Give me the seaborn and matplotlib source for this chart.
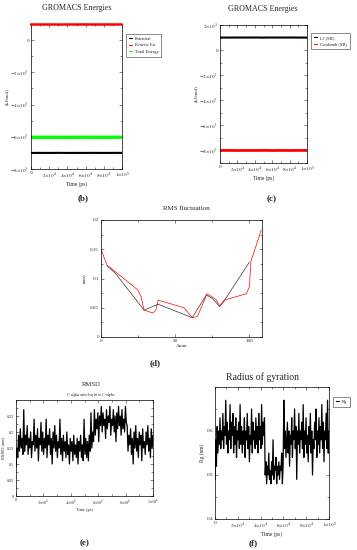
import numpy as np
import pandas as pd
import seaborn as sns
import matplotlib
matplotlib.use("Agg")
import matplotlib.pyplot as plt
from matplotlib.ticker import AutoMinorLocator

# Energy terms (kJ/mol), sampled across the 100 ns run
energy_time = [0, 1e4, 2e4, 3e4, 4e4, 5e4, 6e4, 7e4, 8e4, 9e4, 1e5]
potential = [-7004, -6998, -7002, -6997, -7003, -6999, -7001, -6998, -7002, -6999, -7000]
kinetic = [972, 968, 971, 967, 970, 969, 972, 968, 971, 969, 970]
total_energy = [-6032, -6030, -6031, -6030, -6033, -6030, -6029, -6030, -6031, -6030, -6030]
lj_sr = [1003, 998, 1002, 999, 1003, 997, 1002, 999, 1003, 998, 1001]
coulomb_sr = [-8003, -7997, -8004, -7998, -8002, -7996, -8003, -7998, -8002, -7997, -8000]

# RMS fluctuation per atom (nm)
black_atom = [4, 10, 29, 38.5, 61.5, 71, 75, 80, 82, 100]
black_rmsf = [0.122, 0.108, 0.046, 0.056, 0.033, 0.072, 0.066, 0.052, 0.058, 0.128]
red_atom = [0, 4, 10, 25, 27, 29, 35, 37, 38.5, 56, 61.5, 65, 71.5, 77.5, 80, 83, 98, 100, 101, 108]
red_rmsf = [0.15, 0.123, 0.111, 0.08, 0.069, 0.046, 0.041, 0.046, 0.063, 0.05,
            0.033, 0.035, 0.074, 0.064, 0.053, 0.063, 0.074, 0.086, 0.129, 0.183]

# RMSD of C-alpha (nm)
rmsd = [
    0.09, 0.15, 0.12, 0.19, 0.14, 0.21, 0.15, 0.18, 0.13, 0.27,
    0.14, 0.19, 0.16, 0.22, 0.13, 0.18, 0.15, 0.20, 0.12, 0.17,
    0.16, 0.24, 0.14, 0.19, 0.15, 0.21, 0.11, 0.18, 0.16, 0.23,
    0.14, 0.20, 0.13, 0.18, 0.15, 0.24, 0.12, 0.19, 0.16, 0.21,
    0.13, 0.18, 0.10, 0.20, 0.15, 0.22, 0.14, 0.19, 0.12, 0.17,
    0.15, 0.24, 0.13, 0.18, 0.11, 0.19, 0.14, 0.17, 0.12, 0.20,
    0.13, 0.16, 0.10, 0.18, 0.14, 0.17, 0.11, 0.19, 0.13, 0.16,
    0.12, 0.18, 0.10, 0.17, 0.14, 0.19, 0.12, 0.16, 0.11, 0.24,
    0.13, 0.18, 0.12, 0.17, 0.11, 0.19, 0.14, 0.26, 0.15, 0.20,
    0.17, 0.27, 0.19, 0.24, 0.21, 0.26, 0.17, 0.25, 0.22, 0.28,
    0.20, 0.26, 0.22, 0.24, 0.18, 0.27, 0.21, 0.25, 0.23, 0.28,
    0.19, 0.24, 0.22, 0.27, 0.20, 0.25, 0.17, 0.26, 0.21, 0.28,
    0.22, 0.25, 0.19, 0.27, 0.21, 0.24, 0.20, 0.28, 0.23, 0.22,
    0.14, 0.19, 0.16, 0.21, 0.13, 0.18, 0.10, 0.20, 0.15, 0.22,
    0.14, 0.18, 0.12, 0.20, 0.16, 0.19, 0.11, 0.21, 0.15, 0.17,
    0.13, 0.20, 0.16, 0.22, 0.14, 0.18, 0.12, 0.21, 0.15, 0.19,
]

# Radius of gyration (nm)
rg = [
    0.49, 0.58, 0.52, 0.61, 0.55, 0.60, 0.57, 0.63, 0.56, 0.60,
    0.58, 0.64, 0.56, 0.61, 0.59, 0.67, 0.57, 0.62, 0.55, 0.60,
    0.58, 0.66, 0.56, 0.62, 0.59, 0.64, 0.55, 0.61, 0.57, 0.63,
    0.54, 0.60, 0.58, 0.62, 0.56, 0.66, 0.57, 0.61, 0.55, 0.60,
    0.57, 0.63, 0.54, 0.60, 0.58, 0.64, 0.56, 0.61, 0.53, 0.59,
    0.57, 0.65, 0.55, 0.62, 0.58, 0.60, 0.56, 0.63, 0.57, 0.61,
    0.55, 0.64, 0.58, 0.61, 0.56, 0.66, 0.57, 0.62, 0.59, 0.63,
    0.50, 0.53, 0.48, 0.52, 0.50, 0.55, 0.49, 0.51, 0.48, 0.53,
    0.50, 0.58, 0.49, 0.52, 0.51, 0.54, 0.48, 0.52, 0.50, 0.53,
    0.49, 0.52, 0.51, 0.55, 0.48, 0.52, 0.67, 0.56, 0.60, 0.54,
    0.58, 0.62, 0.55, 0.60, 0.52, 0.59, 0.57, 0.63, 0.54, 0.60,
    0.58, 0.65, 0.56, 0.61, 0.49, 0.60, 0.57, 0.64, 0.55, 0.60,
    0.58, 0.62, 0.56, 0.66, 0.54, 0.60, 0.57, 0.63, 0.55, 0.59,
    0.53, 0.61, 0.57, 0.64, 0.55, 0.60, 0.50, 0.58, 0.56, 0.62,
    0.58, 0.65, 0.54, 0.60, 0.57, 0.63, 0.55, 0.61, 0.58, 0.66,
    0.56, 0.62, 0.53, 0.60, 0.58, 0.64, 0.56, 0.67, 0.55, 0.60,
]

# Tick labels
time_ticks = [0, 2e4, 4e4, 6e4, 8e4, 1e5]
time_labels = ["0", r"$2{\times}10^{4}$", r"$4{\times}10^{4}$", r"$6{\times}10^{4}$",
               r"$8{\times}10^{4}$", r"$1{\times}10^{5}$"]
energy_b_ticks = [-8000, -6000, -4000, -2000, 0]
energy_c_ticks = [-8000, -6000, -4000, -2000, 0, 2000]
energy_labels = {-8000: r"$-8{\times}10^{3}$", -6000: r"$-6{\times}10^{3}$",
                 -4000: r"$-4{\times}10^{3}$", -2000: r"$-2{\times}10^{3}$",
                 0: "0", 2000: r"$2{\times}10^{3}$"}
rmsf_yticks = [0, 0.05, 0.1, 0.15, 0.2]
rmsf_ylabels = ["0", "0.05", "0.1", "0.15", "0.2"]
atom_ticks = [0, 50, 100]
rmsd_yticks = [0, 0.05, 0.1, 0.15, 0.2, 0.25]
rmsd_ylabels = ["0", "0.05", "0.1", "0.15", "0.2", "0.25"]
rg_yticks = [0.4, 0.5, 0.6]
rg_ylabels = ["0.4", "0.5", "0.6"]

sns.set_style("ticks")
plt.rcParams['font.family'] = ['Liberation Serif', 'DejaVu Serif']
plt.rcParams['mathtext.fontset'] = 'stix'

W, H = 357, 550
fig = plt.figure(figsize=(W / 100, H / 100), dpi=100)


def px_axes(left, top, right, bottom):
    return fig.add_axes([left / W, 1 - bottom / H, (right - left) / W, (bottom - top) / H])


def grace(ax, fs=3.8):
    ax.tick_params(which='both', direction='in', top=True, right=True,
                   labelsize=fs, width=0.4, pad=1.5)
    ax.tick_params(which='major', length=2.2)
    ax.tick_params(which='minor', length=1.2)
    for s in ax.spines.values():
        s.set_linewidth(0.5)
        s.set_color('black')


def legend_box(ax, x, y):
    leg = ax.legend(loc='upper left', bbox_to_anchor=(x, y), fontsize=3.3,
                    frameon=True, fancybox=False, edgecolor='black',
                    handlelength=0.8, handletextpad=0.5, borderpad=0.6,
                    labelspacing=0.5, borderaxespad=0)
    leg.get_frame().set_linewidth(0.4)
    for h in leg.get_lines():
        h.set_linewidth(0.8)


# (b) energies
ax = px_axes(31, 24, 122, 169)
sns.lineplot(x=energy_time, y=potential, ax=ax, color='black', lw=1.5, label='Potential')
sns.lineplot(x=energy_time, y=kinetic, ax=ax, color='#ff0000', lw=1.8, label='Kinetic En.',
             zorder=3, clip_on=False)
sns.lineplot(x=energy_time, y=total_energy, ax=ax, color='#00ff00', lw=2.4, label='Total Energy')
ax.set_xlim(0, 1e5)
ax.set_ylim(-8000, 1000)
ax.set_xticks(time_ticks, time_labels)
ax.set_yticks(energy_b_ticks, [energy_labels[v] for v in energy_b_ticks])
ax.xaxis.set_minor_locator(AutoMinorLocator(2))
ax.yaxis.set_minor_locator(AutoMinorLocator(2))
ax.set_xlabel("Time (ps)", fontsize=4.0, labelpad=1)
ax.set_ylabel("(kJ/mol)", fontsize=3.6, labelpad=1)
grace(ax)
legend_box(ax, 1.044, 0.931)
fig.text(76.5 / W, 1 - 8 / H, "GROMACS Energies", ha='center', va='center', fontsize=5.8)
fig.text(83 / W, 1 - 198 / H, "(b)", ha='center', va='center', fontsize=6.5, fontweight='bold')

# (c) energies
ax = px_axes(220, 25, 307, 163)
sns.lineplot(x=energy_time, y=lj_sr, ax=ax, color='black', lw=1.5, label='LJ (SR)')
sns.lineplot(x=energy_time, y=coulomb_sr, ax=ax, color='#ff0000', lw=2.0, label='Coulomb (SR)')
ax.set_xlim(0, 1e5)
ax.set_ylim(-9000, 2000)
ax.set_xticks(time_ticks, time_labels)
ax.set_yticks(energy_c_ticks, [energy_labels[v] for v in energy_c_ticks])
ax.xaxis.set_minor_locator(AutoMinorLocator(2))
ax.yaxis.set_minor_locator(AutoMinorLocator(2))
ax.set_xlabel("Time (ps)", fontsize=4.0, labelpad=1)
ax.set_ylabel("(kJ/mol)", fontsize=3.6, labelpad=1)
grace(ax)
legend_box(ax, 1.046, 0.942)
fig.text(263 / W, 1 - 9 / H, "GROMACS Energies", ha='center', va='center', fontsize=5.8)
fig.text(272 / W, 1 - 199 / H, "(c)", ha='center', va='center', fontsize=6.5, fontweight='bold')

# (d) RMS fluctuation
ax = px_axes(101, 220, 262, 337)
sns.lineplot(x=black_atom, y=black_rmsf, ax=ax, color='#333333', lw=0.5, estimator=None)
sns.lineplot(x=red_atom, y=red_rmsf, ax=ax, color='#ff0000', lw=0.5, estimator=None)
ax.set_xlim(0, 108.5)
ax.set_ylim(0, 0.2)
ax.set_xticks(atom_ticks)
ax.set_yticks(rmsf_yticks, rmsf_ylabels)
ax.xaxis.set_minor_locator(AutoMinorLocator(2))
ax.yaxis.set_minor_locator(AutoMinorLocator(2))
ax.set_xlabel("Atom", fontsize=3.6, labelpad=1)
ax.set_ylabel("(nm)", fontsize=3.6, labelpad=2)
grace(ax, fs=3.6)
fig.text(186 / W, 1 - 209 / H, "RMS fluctuation", ha='center', va='center', fontsize=5.0)
fig.text(155 / W, 1 - 363 / H, "(d)", ha='center', va='center', fontsize=6.5, fontweight='bold')

# (e) RMSD
ax = px_axes(16, 400, 153, 496)
rmsd_time = np.linspace(0, 1e5, len(rmsd))
sns.lineplot(x=rmsd_time, y=rmsd, ax=ax, color='black', lw=0.9, estimator=None)
ax.set_xlim(0, 1e5)
ax.set_ylim(0, 0.3)
ax.set_xticks(time_ticks, time_labels)
ax.set_yticks(rmsd_yticks, rmsd_ylabels)
ax.xaxis.set_minor_locator(AutoMinorLocator(2))
ax.yaxis.set_minor_locator(AutoMinorLocator(2))
ax.set_xlabel("Time (ps)", fontsize=3.2, labelpad=1)
ax.set_ylabel("RMSD (nm)", fontsize=3.2, labelpad=1)
grace(ax, fs=3.0)
fig.text(91 / W, 1 - 385 / H, "RMSD", ha='center', va='center', fontsize=4.8)
fig.text(91 / W, 1 - 395 / H, "C-alpha after lsq fit to C-alpha", ha='center', va='center', fontsize=2.8)
fig.text(85 / W, 1 - 543 / H, "(e)", ha='center', va='center', fontsize=6.5, fontweight='bold')

# (f) radius of gyration
ax = px_axes(215, 387, 329, 519)
rg_time = np.linspace(0, 1e5, len(rg))
sns.lineplot(x=rg_time, y=rg, ax=ax, color='black', lw=0.9, estimator=None, label='Rg')
ax.set_xlim(0, 1e5)
ax.set_ylim(0.4, 0.7)
ax.set_xticks(time_ticks, time_labels)
ax.set_yticks(rg_yticks, rg_ylabels)
ax.xaxis.set_minor_locator(AutoMinorLocator(2))
ax.yaxis.set_minor_locator(AutoMinorLocator(2))
ax.set_xlabel("Time (ps)", fontsize=4.0, labelpad=1)
ax.set_ylabel("Rg (nm)", fontsize=4.0, labelpad=1)
grace(ax, fs=3.8)
legend_box(ax, 1.035, 0.924)
fig.text(262 / W, 1 - 377 / H, "Radius of gyration", ha='center', va='center', fontsize=7)
fig.text(253 / W, 1 - 543 / H, "(f)", ha='center', va='center', fontsize=6.5, fontweight='bold')

fig.savefig("out.png", dpi=100, facecolor='white')
